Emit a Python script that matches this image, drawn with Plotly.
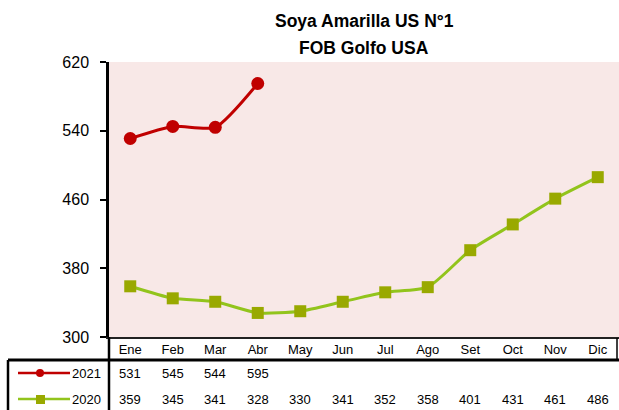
import plotly.graph_objects as go

meses = ['Ene', 'Feb', 'Mar', 'Abr', 'May', 'Jun', 'Jul', 'Ago', 'Set', 'Oct', 'Nov', 'Dic']
precios_2021 = [531, 545, 544, 595]
precios_2020 = [359, 345, 341, 328, 330, 341, 352, 358, 401, 431, 461, 486]

rojo = '#C00000'
verde_linea = '#92C41C'
verde_marca = '#99A900'
fuente = 'Arial, Liberation Sans, sans-serif'

# pixel helpers (plot area: x 109..619, y 62..337)
def px(X):
    return (X - 109) / 510

def py(Y):
    return (337 - Y) / 275

fig = go.Figure()

fig.add_trace(go.Scatter(
    x=meses, y=precios_2020, name='2020', mode='lines+markers',
    line=dict(color=verde_linea, width=3, shape='spline', smoothing=0.6),
    marker=dict(symbol='square', size=12, color=verde_marca),
))
fig.add_trace(go.Scatter(
    x=meses[:len(precios_2021)], y=precios_2021, name='2021', mode='lines+markers',
    line=dict(color=rojo, width=3, shape='spline', smoothing=0.6),
    marker=dict(symbol='circle', size=13, color=rojo),
))

fig.update_layout(
    width=619, height=410,
    margin=dict(l=109, r=0, t=62, b=73),
    paper_bgcolor='white',
    plot_bgcolor='#F8E8E7',
    showlegend=False,
    font=dict(family=fuente, color='black'),
)
fig.update_yaxes(
    range=[300, 620], tick0=300, dtick=80, showgrid=False, zeroline=False,
    showline=True, linecolor='black', linewidth=2.5,
    ticks='outside', ticklen=6, tickwidth=2, tickcolor='black',
    tickfont=dict(size=16, family=fuente), ticklabelstandoff=8,
)
fig.update_xaxes(
    type='category', range=[-0.5, 11.5], showgrid=False, zeroline=False,
    showline=True, linecolor='#222222', linewidth=1.5,
    ticks='', tickfont=dict(size=13, family=fuente),
)

# title
for txt, Y in [('<b>Soya Amarilla US N°1</b>', 21), ('<b>FOB Golfo USA</b>', 48)]:
    fig.add_annotation(text=txt, x=0.5, xref='paper', xanchor='center',
                       y=py(Y), yref='paper', yanchor='middle', showarrow=False,
                       font=dict(size=17.5, family=fuente))

# data table
fila_2021 = py(373)
fila_2020 = py(399)
for mes, v in zip(meses, precios_2021):
    fig.add_annotation(text=str(v), x=mes, xref='x', xanchor='center',
                       y=fila_2021, yref='paper', yanchor='middle',
                       showarrow=False, font=dict(size=13, family=fuente))
for mes, v in zip(meses, precios_2020):
    fig.add_annotation(text=str(v), x=mes, xref='x', xanchor='center',
                       y=fila_2020, yref='paper', yanchor='middle',
                       showarrow=False, font=dict(size=13, family=fuente))

for txt, yy in [('2021', fila_2021), ('2020', fila_2020)]:
    fig.add_annotation(text=txt, x=px(103), xref='paper', xanchor='right',
                       y=yy, yref='paper', yanchor='middle', showarrow=False,
                       font=dict(size=13, family=fuente))

lineas = [
    (px(8), py(360), 1.0, py(360), 3),
    (0, py(337), 0, py(412), 2.5),
    (px(8), py(360), px(8), py(412), 2.5),
    (px(617), py(338), px(617), py(360), 1.5),
]
for x0, y0, x1, y1, w in lineas:
    fig.add_shape(type='line', xref='paper', yref='paper', x0=x0, y0=y0, x1=x1, y1=y1,
                  line=dict(color='black', width=w))

# legend keys
fig.add_shape(type='line', xref='paper', yref='paper', x0=px(18), x1=px(70),
              y0=fila_2021, y1=fila_2021, line=dict(color=rojo, width=2.5))
fig.add_shape(type='circle', xref='paper', yref='paper', x0=px(36), x1=px(44),
              y0=py(369), y1=py(377), fillcolor=rojo, line=dict(color=rojo, width=0))
fig.add_shape(type='line', xref='paper', yref='paper', x0=px(18), x1=px(70),
              y0=fila_2020, y1=fila_2020, line=dict(color=verde_linea, width=2.5))
fig.add_shape(type='rect', xref='paper', yref='paper', x0=px(36), x1=px(45),
              y0=py(395), y1=py(404), fillcolor=verde_marca, line=dict(color=verde_marca, width=0))

fig.write_html('out.html', config={'displayModeBar': False},
               post_script="document.body.style.margin='0';")
